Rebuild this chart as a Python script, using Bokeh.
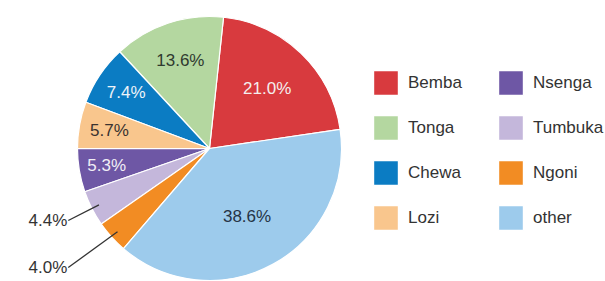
import numpy as np
from bokeh.plotting import figure
from bokeh.models import ColumnDataSource, Range1d, Legend, LegendItem
from bokeh.embed import file_html
from bokeh.resources import INLINE

# ---- data ----
groups = ["Bemba", "Tonga", "Chewa", "Lozi", "Nsenga", "Tumbuka", "Ngoni", "other"]
shares = [21.0, 13.6, 7.4, 5.7, 5.3, 4.4, 4.0, 38.6]
colors = ["#D83A3E", "#B4D7A0", "#0B7CC3", "#F9C68D", "#6E57A5", "#C4B7DB", "#F28C23", "#9DCBEC"]
text_colors = ["#F4EEEE", "#2F3A2F", "#EEF3F8", "#3A3330", "#F1EEF6", "#333333", "#333333", "#263446"]
outside = [False, False, False, False, False, True, True, False]
label_rfrac = [0.63, 0.70, 0.76, 0.77, 0.79, 0.94, 0.94, 0.59]

# ---- layout (reference pixel space -> data space) ----
W, H = 605, 281
def X(px): return px
def Y(py): return H - py

cx, cy, R = X(209), Y(148), 132
start = np.deg2rad(8.3)
frac = np.array(shares) / sum(shares)
ends = start + 2 * np.pi * np.cumsum(frac)
starts = ends - 2 * np.pi * frac
mids = (starts + ends) / 2

labels = [f"{v:.1f}%" for v in shares]

src = ColumnDataSource(dict(group=groups, share=shares, color=colors,
                            start=starts, end=ends))

p = figure(width=W, height=H, x_range=Range1d(0, W), y_range=Range1d(0, H),
           x_axis_type=None, y_axis_type=None, output_backend="svg",
           toolbar_location=None, min_border=0)
p.grid.visible = False
p.outline_line_color = None
p.background_fill_color = "white"
p.border_fill_color = "white"

r = p.wedge(x=cx, y=cy, radius=R, start_angle="start", end_angle="end",
            fill_color="color", line_color="white", line_width=1.2, source=src)

in_x, in_y, in_t, in_c = [], [], [], []
lx0, ly0, lx1, ly1, out_x, out_y, out_t = [], [], [], [], [], [], []
elbow_x = cx - 1.07 * R
ymin = Y(267)
for i, m in enumerate(mids):
    f = label_rfrac[i]
    if not outside[i]:
        in_x.append(cx + f * R * np.cos(m))
        in_y.append(cy + f * R * np.sin(m))
        in_t.append(labels[i])
        in_c.append(text_colors[i])
    else:
        sx = cx + f * R * np.cos(m)
        sy = cy + f * R * np.sin(m)
        ey = cy + (elbow_x - cx) * np.tan(m)
        ey = max(ey, ymin)
        lx0.append(sx); ly0.append(sy); lx1.append(elbow_x); ly1.append(ey)
        out_x.append(elbow_x - 1); out_y.append(ey); out_t.append(labels[i])

p.text(x=in_x, y=in_y, text=in_t, text_color=in_c, text_align="center",
       text_baseline="middle", text_font_size="17px", text_font={"value": "Liberation Sans"})
p.segment(x0=lx0, y0=ly0, x1=lx1, y1=ly1, line_color="#333333", line_width=1.3)
p.text(x=out_x, y=out_y, text=out_t, text_color="#333333", text_align="right",
       text_baseline="middle", text_font_size="17px", text_font={"value": "Liberation Sans"})

common = dict(orientation="vertical", glyph_width=31, glyph_height=31, spacing=14,
              label_standoff=7, padding=0, margin=0, border_line_alpha=0,
              background_fill_alpha=0, label_text_font="Liberation Sans",
              label_text_font_size="17px", label_text_color="#333333")
leg1 = Legend(items=[LegendItem(label=groups[i], renderers=[r], index=i) for i in range(4)],
              location=(370, 48), **common)
leg2 = Legend(items=[LegendItem(label=groups[i], renderers=[r], index=i) for i in range(4, 8)],
              location=(495, 48), **common)
p.add_layout(leg1)
p.add_layout(leg2)

open("out.html", "w").write(file_html(p, INLINE))
